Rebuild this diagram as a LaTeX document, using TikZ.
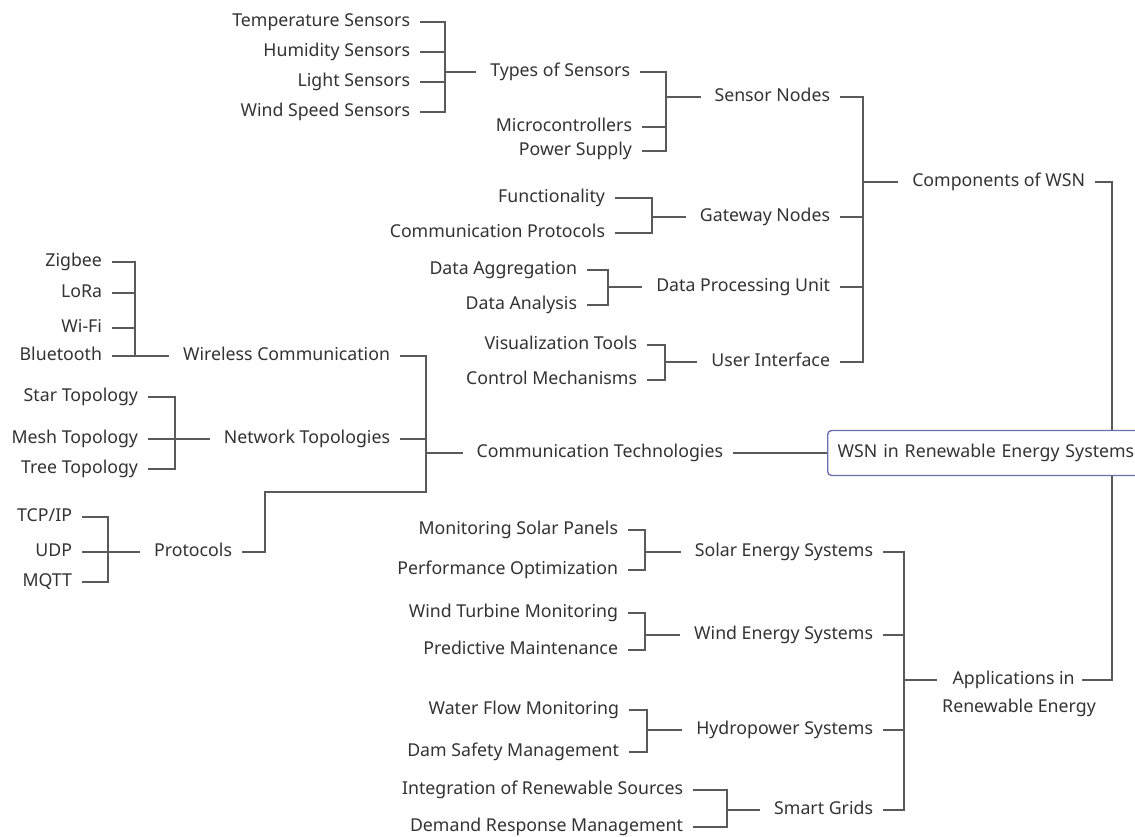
\documentclass[tikz,border=0pt]{standalone}
\usepackage{fontspec}
\setmainfont{Noto Sans}
\usetikzlibrary{calc}
\definecolor{txt}{HTML}{333333}
\definecolor{ln}{HTML}{5A5A5A}
\definecolor{rootc}{HTML}{6C6CB0}
\begin{document}
\begin{tikzpicture}[x=0.75pt,y=-0.75pt,
  lbl/.style={inner sep=0pt,outer xsep=7.5pt,text height=9.3pt,text depth=2.7pt,
    text=txt,font=\fontsize{13.3}{16}\selectfont},
  leaf/.style={lbl,anchor=east},
  link/.style={draw=ln,line width=1pt}]
\useasboundingbox (0,0) rectangle (1135,837);
\clip (0,0) rectangle (1135,837);
\fill[white] (0,0) rectangle (1135,837);

% ---------- Components of WSN ----------
\node[leaf] (temp)   at (420,22)  {Temperature Sensors};
\node[leaf] (hum)    at (420,52)  {Humidity Sensors};
\node[leaf] (light)  at (420,82)  {Light Sensors};
\node[leaf] (windsp) at (420,112) {Wind Speed Sensors};
\coordinate (jT) at (445,72);
\node[leaf] (types)  at (640,72)  {Types of Sensors};
\node[leaf] (micro)  at (642,127) {Microcontrollers};
\node[leaf] (power)  at (642,151) {Power Supply};
\coordinate (jS) at (666,97);
\node[leaf] (sensor) at (840,97)  {Sensor Nodes};

\node[leaf] (func)   at (615,198) {Functionality};
\node[leaf] (cprot)  at (615,233) {Communication Protocols};
\coordinate (jG) at (652,217);
\node[leaf] (gateway) at (840,217) {Gateway Nodes};

\node[leaf] (dagg)   at (587,270) {Data Aggregation};
\node[leaf] (dana)   at (587,305) {Data Analysis};
\coordinate (jD) at (608,287);
\node[leaf] (dpu)    at (840,287) {Data Processing Unit};

\node[leaf] (vis)    at (647,345) {Visualization Tools};
\node[leaf] (ctrl)   at (647,380) {Control Mechanisms};
\coordinate (jU) at (665,362);
\node[leaf] (ui)     at (840,362) {User Interface};

\coordinate (jC) at (863,182);
\node[leaf] (comp)   at (1095,182) {Components of WSN};

\foreach \c in {temp,hum,light,windsp} \draw[link] (\c.east) -| (jT);
\draw[link] (jT) -- ([xshift=-3pt]types.west);
\foreach \c in {types,micro,power} \draw[link] (\c.east) -| (jS);
\draw[link] (jS) -- ([xshift=-3pt]sensor.west);
\foreach \c in {func,cprot} \draw[link] (\c.east) -| (jG);
\draw[link] (jG) -- ([xshift=-3pt]gateway.west);
\foreach \c in {dagg,dana} \draw[link] (\c.east) -| (jD);
\draw[link] (jD) -- ([xshift=-3pt]dpu.west);
\foreach \c in {vis,ctrl} \draw[link] (\c.east) -| (jU);
\draw[link] (jU) -- ([xshift=-3pt]ui.west);
\foreach \c in {sensor,gateway,dpu,ui} \draw[link] (\c.east) -| (jC);
\draw[link] (jC) -- ([xshift=-3pt]comp.west);

% ---------- Communication Technologies ----------
\node[leaf] (zig)   at (112,262) {Zigbee};
\node[leaf] (lora)  at (112,293) {LoRa};
\node[leaf] (wifi)  at (112,328) {Wi-Fi};
\node[leaf] (blue)  at (112,356) {Bluetooth};
\coordinate (jW) at (135,356);
\node[leaf] (wireless) at (400,356) {Wireless Communication};

\node[leaf] (star)  at (148,397) {Star Topology};
\node[leaf] (mesh)  at (148,439) {Mesh Topology};
\node[leaf] (tree)  at (148,469) {Tree Topology};
\coordinate (jN) at (175,439);
\node[leaf] (nettop) at (400,439) {Network Topologies};

\node[leaf] (tcp)   at (82,517) {TCP/IP};
\node[leaf] (udp)   at (82,552) {UDP};
\node[leaf] (mqtt)  at (82,582) {MQTT};
\coordinate (jP) at (108,552);
\node[leaf] (proto) at (242,552) {Protocols};

\coordinate (jCT) at (426,453);
\node[leaf] (commtech) at (733,453) {Communication Technologies};

\foreach \c in {zig,lora,wifi,blue} \draw[link] (\c.east) -| (jW);
\draw[link] (jW) -- ([xshift=-3pt]wireless.west);
\foreach \c in {star,mesh,tree} \draw[link] (\c.east) -| (jN);
\draw[link] (jN) -- ([xshift=-3pt]nettop.west);
\foreach \c in {tcp,udp,mqtt} \draw[link] (\c.east) -| (jP);
\draw[link] (jP) -- ([xshift=-3pt]proto.west);
\draw[link] (wireless.east) -| (jCT);
\draw[link] (nettop.east) -| (jCT);
\draw[link] (proto.east) -| (265,492) -| (jCT);
\draw[link] (jCT) -- ([xshift=-3pt]commtech.west);

% ---------- Applications in Renewable Energy ----------
\node[leaf] (mon)    at (628,530) {Monitoring Solar Panels};
\node[leaf] (perf)   at (628,570) {Performance Optimization};
\coordinate (jSo) at (645,552);
\node[leaf] (solar)  at (883,552) {Solar Energy Systems};

\node[leaf] (wturb)  at (628,613) {Wind Turbine Monitoring};
\node[leaf] (pred)   at (628,650) {Predictive Maintenance};
\coordinate (jWi) at (645,635);
\node[leaf] (windes) at (883,635) {Wind Energy Systems};

\node[leaf] (water)  at (629,710) {Water Flow Monitoring};
\node[leaf] (dam)    at (629,752) {Dam Safety Management};
\coordinate (jH) at (647,730);
\node[leaf] (hydro)  at (883,730) {Hydropower Systems};

\node[leaf] (integ)  at (693,790) {Integration of Renewable Sources};
\node[leaf] (demand) at (693,827) {Demand Response Management};
\coordinate (jSG) at (727,810);
\node[leaf] (smart)  at (883,810) {Smart Grids};

\coordinate (jA) at (904,680);
\node[inner sep=0pt,align=center,text=txt,font=\fontsize{13.3}{21}\selectfont]
  (app) at (1019,694) {Applications in\hspace*{8pt}\\Renewable Energy};
\path (app.center) +(-82,-14) coordinate (appIn) +(63,-14) coordinate (appOut);

\foreach \c in {mon,perf} \draw[link] (\c.east) -| (jSo);
\draw[link] (jSo) -- ([xshift=-3pt]solar.west);
\foreach \c in {wturb,pred} \draw[link] (\c.east) -| (jWi);
\draw[link] (jWi) -- ([xshift=-3pt]windes.west);
\foreach \c in {water,dam} \draw[link] (\c.east) -| (jH);
\draw[link] (jH) -- ([xshift=-3pt]hydro.west);
\foreach \c in {integ,demand} \draw[link] (\c.east) -| (jSG);
\draw[link] (jSG) -- ([xshift=-3pt]smart.west);
\foreach \c in {solar,windes,hydro,smart} \draw[link] (\c.east) -| (jA);
\draw[link] (jA) -- (appIn);

% ---------- root ----------
\coordinate (jR) at (1112,453);
\draw[link] (comp.east) -| (jR);
\draw[link] (appOut) -| (jR);
\node[draw=rootc,fill=white,rounded corners=3pt,line width=1pt,anchor=west,
  inner xsep=7.5pt,inner ysep=0pt,minimum height=33.75pt,text width=232pt,align=left,
  text height=9.3pt,text depth=2.7pt,text=txt,font=\fontsize{13.3}{16}\selectfont]
  (root) at (827,453) {WSN in Renewable Energy Systems};
\draw[link] (commtech.east) -- (root.west);
\end{tikzpicture}
\end{document}
